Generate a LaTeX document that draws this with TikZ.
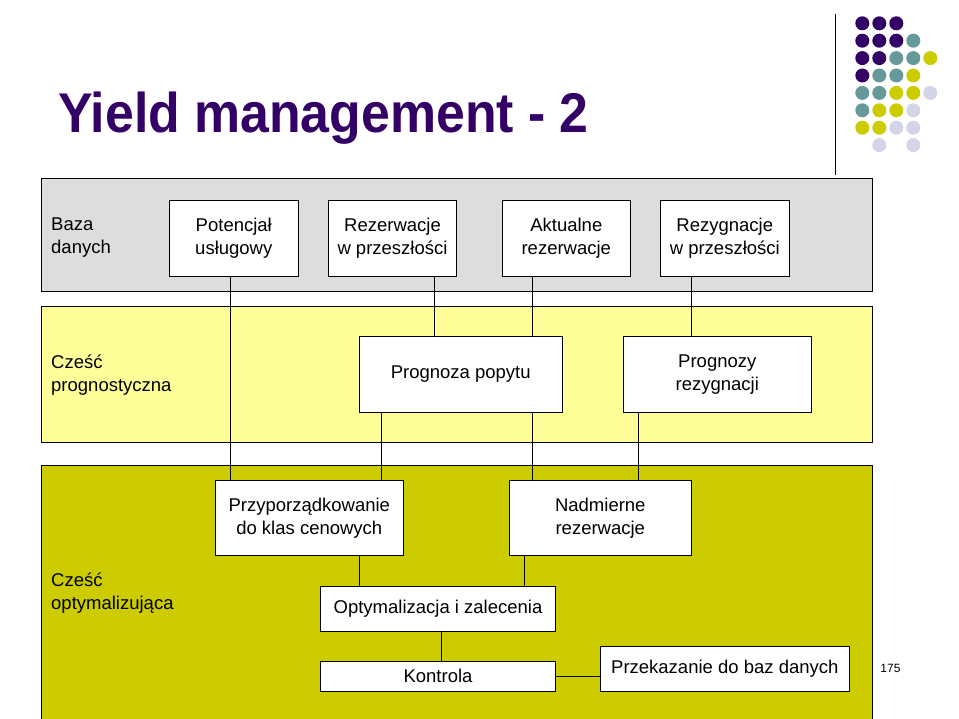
\documentclass[tikz,border=0pt]{standalone}
\usepackage{fontspec}
\setmainfont{Liberation Sans}
\usepackage{tikz}
\usepackage{xcolor}
\usetikzlibrary{positioning, calc}
\definecolor{cPurple}{RGB}{51,0,102}
\definecolor{cTeal}{RGB}{102,153,153}
\definecolor{cOlive}{RGB}{204,204,0}
\definecolor{cLav}{RGB}{212,212,232}
\definecolor{cGray}{RGB}{221,221,221}
\definecolor{cPale}{RGB}{255,255,153}
\tikzset{
	band/.style    ={draw=black, line width=0.8pt},
	box/.style     ={rectangle, draw=black, line width=0.8pt, fill=white, align=center, inner sep=0pt, font=\fontsize{18.5}{23}\selectfont},
	lbl/.style     ={anchor=west, align=left, inner sep=0pt, font=\fontsize{18.5}{23}\selectfont},
	wire/.style    ={draw=black, line width=0.8pt},
	title/.style   ={text=cPurple, inner sep=0pt, font=\fontsize{56}{64}\selectfont\bfseries},
	dot/.style     ={circle, inner sep=0pt, minimum size=14pt},
}
\begin{document}
\begin{tikzpicture}[x=1pt, y=-1pt]
	\clip (0,0) rectangle (959,719);
	\fill[white] (0,0) rectangle (959,719);
	% title and decoration
	\node[title, anchor=base west] (title) at (58,133) {\scalebox{0.925}[1]{Yield management - 2}};
	\draw[line width=0.8pt] (835,14) -- (835,175);
	\foreach \i/\j in {0/0,1/0,2/0,0/1,1/1,2/1,0/2,1/2,0/3}
		\node[dot, fill=cPurple] at (862.3+17*\i, 23.3+17.4*\j) {};
	\foreach \i/\j in {3/1,2/2,3/2,1/3,2/3,0/4,1/4,0/5}
		\node[dot, fill=cTeal] at (862.3+17*\i, 23.3+17.4*\j) {};
	\foreach \i/\j in {4/2,3/3,2/4,3/4,1/5,2/5,0/6,1/6}
		\node[dot, fill=cOlive] at (862.3+17*\i, 23.3+17.4*\j) {};
	\foreach \i/\j in {4/4,3/5,2/6,3/6,1/7,3/7}
		\node[dot, fill=cLav] at (862.3+17*\i, 23.3+17.4*\j) {};
	% bands
	\filldraw[band, fill=cGray] (41,178) rectangle (872,291);
	\filldraw[band, fill=cPale] (41,306) rectangle (872,442);
	\filldraw[band, fill=cOlive] (41,465) rectangle (872,730);
	\node[lbl] (baza) at (51,237.5) {Baza\\danych};
	\node[lbl] (cprog) at (51,375) {Cześć\\prognostyczna};
	\node[lbl] (copt) at (51,593) {Cześć\\optymalizująca};
	% boxes
	\node[box, minimum width=129pt, minimum height=75.3pt] (pot) at (233.8,238.3) {Potencjał\\usługowy};
	\node[box, minimum width=128.4pt, minimum height=75.3pt] (rezp) at (392.5,238.3) {Rezerwacje\\w przeszłości};
	\node[box, minimum width=128pt, minimum height=75.3pt] (akt) at (566.3,238.3) {Aktualne\\rezerwacje};
	\node[box, minimum width=129pt, minimum height=75.3pt] (rezy) at (724.8,238.3) {Rezygnacje\\w przeszłości};
	\node[box, minimum width=203.3pt, minimum height=75.6pt] (prog) at (460.7,374.5) {Prognoza popytu};
	\node[box, minimum width=188pt, minimum height=75.6pt] (progr) at (717.3,374.5) {Prognozy\\rezygnacji};
	\node[box, minimum width=188pt, minimum height=75pt] (przy) at (309.3,518.2) {Przyporządkowanie\\do klas cenowych};
	\node[box, minimum width=182pt, minimum height=75pt] (nadm) at (600.3,518.2) {Nadmierne\\rezerwacje};
	\node[box, minimum width=234.6pt, minimum height=44.6pt] (opt) at (438,609) {Optymalizacja i zalecenia};
	\node[box, minimum width=234.6pt, minimum height=29.7pt] (kon) at (438,676.2) {Kontrola};
	\node[box, minimum width=249pt, minimum height=44.3pt] (prz) at (724.8,668.8) {Przekazanie do baz danych};
	\node[inner sep=0pt, font=\fontsize{12}{14}\selectfont] (page) at (890.5,668) {175};
	% connectors
	\foreach \a/\b/\x in {pot/przy/230.7, rezp/prog/434.3, akt/prog/532.3, rezy/progr/691.3,
		prog/przy/381.7, prog/nadm/532.3, progr/nadm/638.3, przy/opt/359, nadm/opt/524.3, opt/kon/441.7}
		\draw[wire] (\a.south -| \x,0) -- (\b.north -| \x,0);
	\draw[wire] (kon.east) -- (kon.east -| prz.west);
\end{tikzpicture}
\end{document}
